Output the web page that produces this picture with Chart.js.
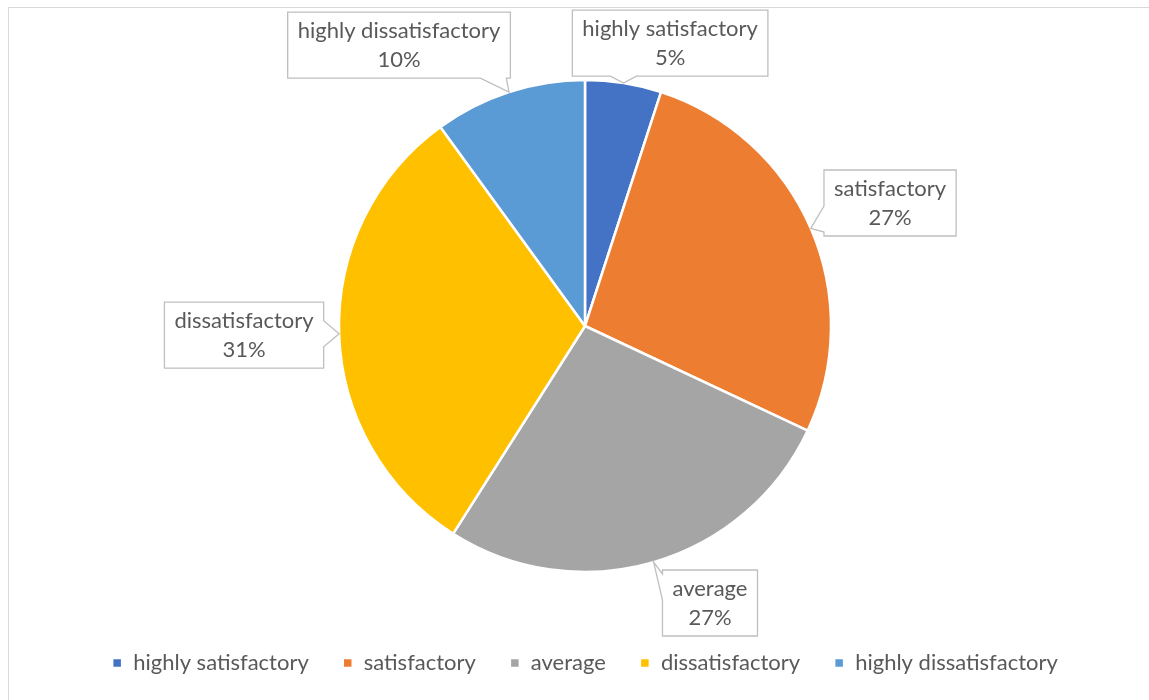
<!DOCTYPE html>
<html>
<head>
<meta charset="utf-8">
<script src="https://cdn.jsdelivr.net/npm/chart.js@4"></script>
<style>
  body { margin: 0; background: #fff; }
  #wrap { position: relative; width: 1149px; height: 700px; overflow: hidden; }
  #frame { position: absolute; left: 8px; top: 7px; width: 1200px; height: 800px; border: 1px solid #d9d9d9; }
  #chart { position: absolute; left: 0; top: 0; }
</style>
</head>
<body>
<div id="wrap">
  <div id="frame"></div>
  <canvas id="chart" width="1149" height="700"></canvas>
</div>
<script>
// datos del gráfico
const categorias = ["highly satisfactory", "satisfactory", "average", "dissatisfactory", "highly dissatisfactory"];
const porcentajes = [5, 27, 27, 31, 10];
const colores = ["#4472C4", "#ED7D31", "#A5A5A5", "#FFC000", "#5B9BD5"];

const fuente = "Lato, 'Open Sans', sans-serif";

// posición de cada etiqueta (centro de la caja) en unidades del radio
const posEtiquetas = [
  [0.346, -1.150],
  [1.240, -0.500],
  [0.508, 1.126],
  [-1.386, 0.037],
  [-0.756, -1.142],
];

// plugin para las etiquetas tipo "callout"
const etiquetasCallout = {
  id: "etiquetasCallout",
  afterDatasetsDraw(chart) {
    const ctx = chart.ctx;
    const meta = chart.getDatasetMeta(0);
    const total = porcentajes.reduce((a, b) => a + b, 0);
    ctx.save();
    ctx.font = "22px " + fuente;
    meta.data.forEach((arc, i) => {
      const { x, y, outerRadius, startAngle, endAngle } = arc.getProps(["x", "y", "outerRadius", "startAngle", "endAngle"], true);
      const mid = (startAngle + endAngle) / 2;
      const tx = x + Math.cos(mid) * outerRadius;
      const ty = y + Math.sin(mid) * outerRadius;

      const linea1 = categorias[i];
      const linea2 = Math.round(porcentajes[i] / total * 100) + "%";
      const ancho = Math.max(ctx.measureText(linea1).width, ctx.measureText(linea2).width) + 20;
      const alto = 66;
      const cx = x + posEtiquetas[i][0] * outerRadius;
      const cy = y + posEtiquetas[i][1] * outerRadius;
      const l = cx - ancho / 2, r = cx + ancho / 2, t = cy - alto / 2, b = cy + alto / 2;

      // en qué borde va el pico
      const dxOut = Math.max(l - tx, tx - r, 0);
      const dyOut = Math.max(t - ty, ty - b, 0);
      const w = 26;
      const clamp = (v, lo, hi) => Math.min(Math.max(v, lo), hi);
      let puntos;
      if (dyOut >= dxOut && ty > b) {
        const bc = clamp(tx, l + w / 2 + 4, r - w / 2 - 4);
        puntos = [[l, t], [r, t], [r, b], [bc + w / 2, b], [tx, ty], [bc - w / 2, b], [l, b]];
      } else if (dyOut >= dxOut && ty < t) {
        const bc = clamp(tx, l + w / 2 + 4, r - w / 2 - 4);
        puntos = [[l, t], [bc - w / 2, t], [tx, ty], [bc + w / 2, t], [r, t], [r, b], [l, b]];
      } else if (tx < l) {
        const bc = clamp(ty, t + w / 2 + 4, b - w / 2 - 4);
        puntos = [[l, t], [r, t], [r, b], [l, b], [l, bc + w / 2], [tx, ty], [l, bc - w / 2]];
      } else {
        const bc = clamp(ty, t + w / 2 + 4, b - w / 2 - 4);
        puntos = [[l, t], [r, t], [r, bc - w / 2], [tx, ty], [r, bc + w / 2], [r, b], [l, b]];
      }

      ctx.beginPath();
      puntos.forEach((p, k) => (k === 0 ? ctx.moveTo(p[0], p[1]) : ctx.lineTo(p[0], p[1])));
      ctx.closePath();
      ctx.fillStyle = "#ffffff";
      ctx.fill();
      ctx.strokeStyle = "#bfbfbf";
      ctx.lineWidth = 1.3;
      ctx.stroke();

      ctx.fillStyle = "#595959";
      ctx.textAlign = "center";
      ctx.textBaseline = "middle";
      ctx.fillText(linea1, cx, cy - 14);
      ctx.fillText(linea2, cx, cy + 15);
    });
    ctx.restore();
  },
};

const ctx = document.getElementById("chart").getContext("2d");
const grafico = new Chart(ctx, {
  type: "pie",
  data: {
    labels: categorias,
    datasets: [
      {
        data: porcentajes,
        backgroundColor: colores,
        borderColor: "#ffffff",
        borderWidth: 2.5,
        radius: 246,
      },
    ],
  },
  options: {
    responsive: false,
    animation: false,
    layout: {
      padding: { left: 21, right: 0, top: 34, bottom: 16 },
    },
    plugins: {
      tooltip: { enabled: false },
      legend: {
        position: "bottom",
        labels: {
          boxWidth: 10,
          boxHeight: 10,
          padding: 34,
          color: "#595959",
          font: { family: fuente, size: 22 },
        },
      },
    },
  },
  plugins: [etiquetasCallout],
});
</script>
</body>
</html>
